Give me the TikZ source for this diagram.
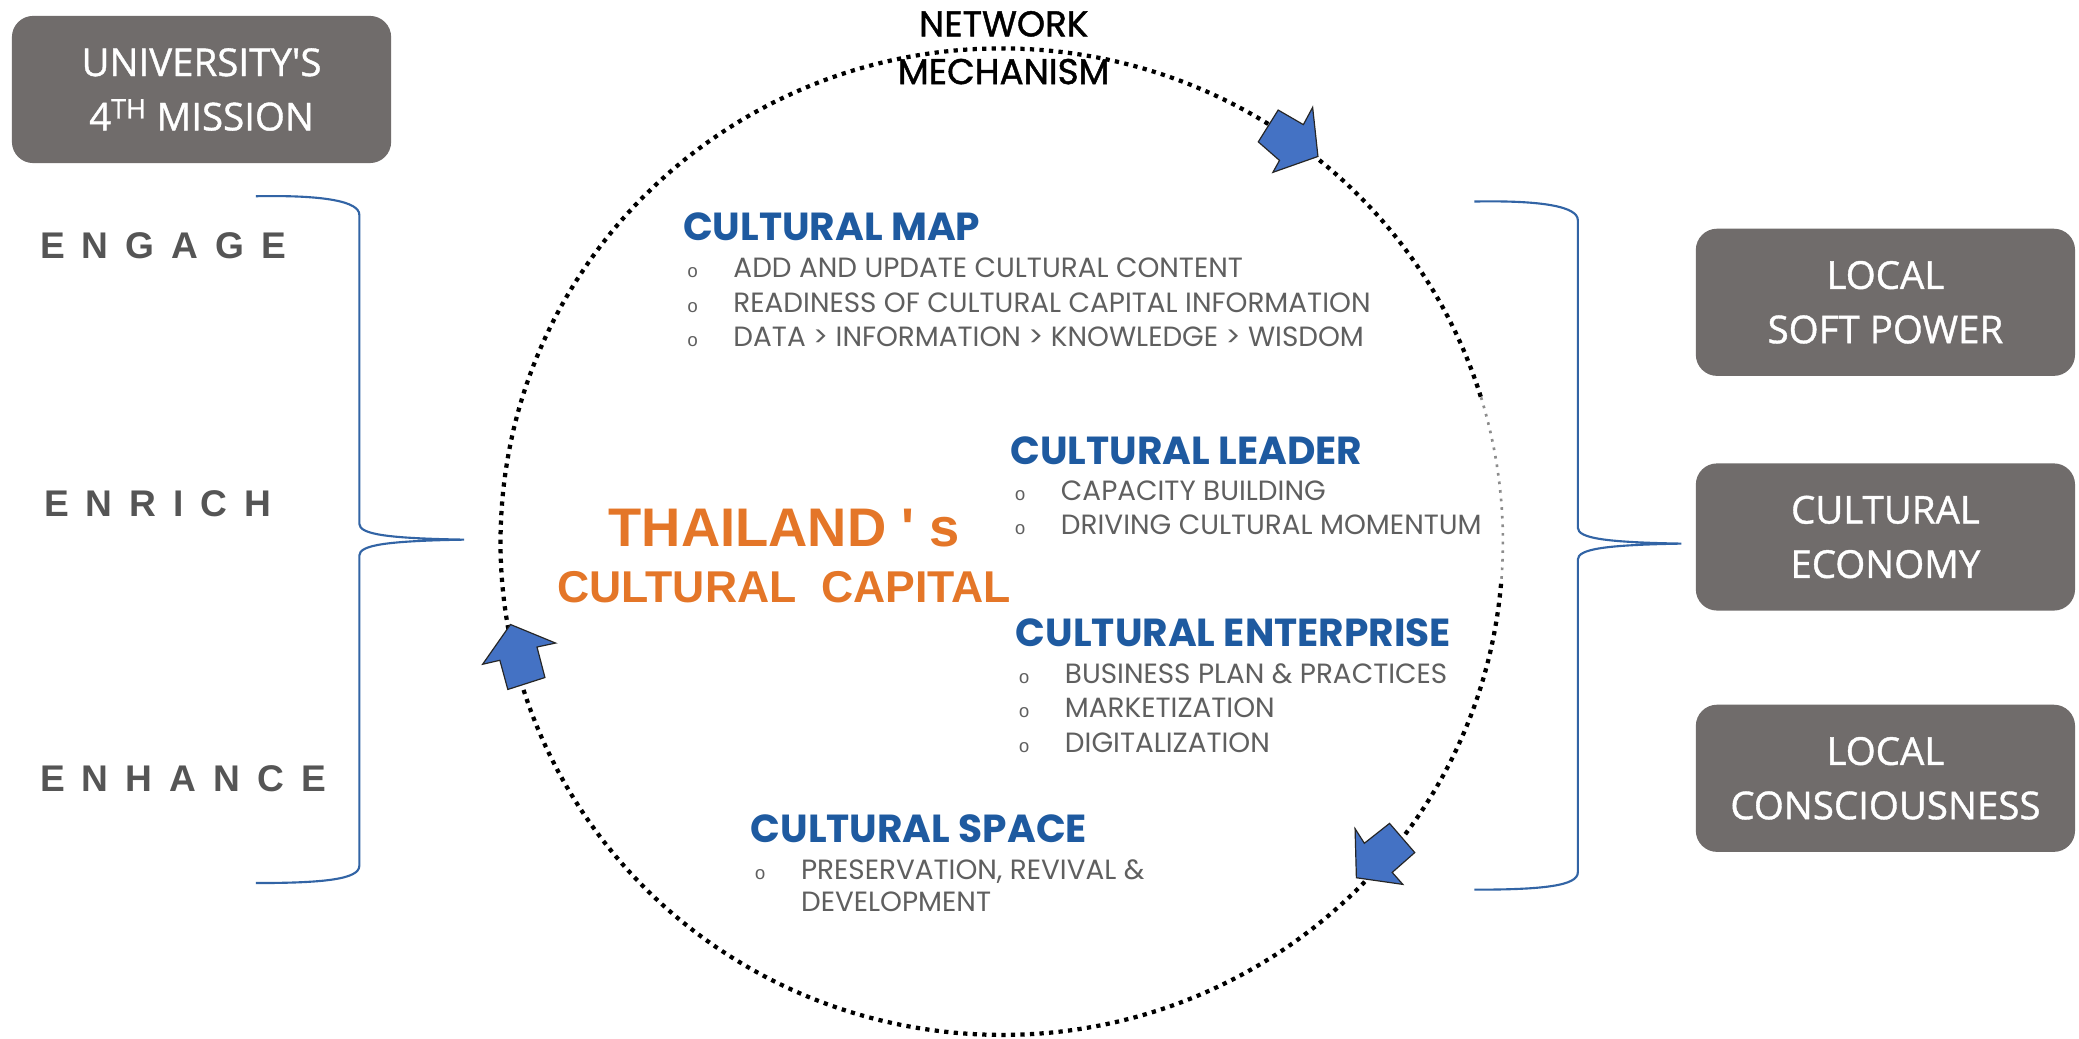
\documentclass[tikz,border=0pt]{standalone}
\usepackage{fontspec}
\setmainfont{Poppins}
\newfontfamily\arialf{Liberation Sans}
\newfontfamily\boxf{Open Sans}[FakeBold=1]
\newfontfamily\netf{Poppins}[FakeBold=1.3]
\newfontfamily\monof{Liberation Mono}
\definecolor{boxgray}{RGB}{112,108,107}
\definecolor{hblue}{RGB}{30,90,160}
\definecolor{txtgray}{RGB}{95,95,95}
\definecolor{wordgray}{RGB}{85,85,85}
\definecolor{orangec}{RGB}{228,118,40}
\definecolor{arrowblue}{RGB}{68,114,196}
\definecolor{bracec}{RGB}{50,100,165}
\definecolor{dotgray}{RGB}{140,140,140}
\tikzset{
  graybox/.style={fill=boxgray, rounded corners=16pt, draw=none, text=white,
    font=\boxf\fontsize{29}{41}\selectfont, align=center,
    minimum width=286pt, minimum height=111pt, inner sep=0pt},
  heading/.style={anchor=west, inner sep=0pt, text=hblue, font=\bfseries\fontsize{29.5}{32}\selectfont},
  itemtxt/.style={anchor=west, inner sep=0pt, text=txtgray, font=\fontsize{21}{24}\selectfont, align=left},
  word/.style={anchor=west, inner sep=0pt, text=wordgray,
    font=\arialf\bfseries\fontsize{28}{32}\selectfont\addfontfeatures{LetterSpace=46}},
  orangetxt/.style={inner sep=0pt, text=orangec, font=\arialf\bfseries},
  nettxt/.style={inner sep=0pt, text=black, font=\netf\fontsize{27}{30}\selectfont},
  dotline/.style={line width=3.2pt, dash pattern=on 3.2pt off 4pt},
  graydots/.style={line width=2pt, dotgray, dash pattern=on 2pt off 4.5pt},
  bracket/.style={bracec, line width=1.6pt},
  blockarrow/.style={fill=arrowblue, draw=black!85, line width=0.9pt, line join=miter}
}
\newcommand{\bul}{\makebox[35pt][l]{\monof\fontsize{14}{14}\selectfont o}}
\begin{document}
\begin{tikzpicture}[x=1pt,y=-1pt]
\useasboundingbox (0,0) rectangle (1568,783);
\fill[white] (0,0) rectangle (1568,783);

% dotted ellipse
\coordinate (g1) at (1132.1,440.3);
\coordinate (g2) at (1117.0,299.7);
\draw[dotline] (g1) arc[start angle=4.9, end angle=343, x radius=378, y radius=372];
\draw[graydots] (g2) arc[start angle=343, end angle=364.9, x radius=378, y radius=372];

% block arrows
\draw[blockarrow] (994,118) -- (990,81) -- (983,94) -- (964,83) -- (949,107) -- (965,121) -- (960,130) -- cycle;
\draw[blockarrow] (385,471) -- (419,485) -- (405,488) -- (411,511) -- (383,520) -- (377,498) -- (364,501) -- cycle;
\draw[blockarrow] (1023,662) -- (1022,625) -- (1029,636) -- (1048,621) -- (1067,643) -- (1050,658) -- (1058,667) -- cycle;

% boxes
\node[graybox] (mission) at (152,67.5) {\fontsize{29}{44}\selectfont UNIVERSITY'S\\4\textsuperscript{TH} MISSION};
\node[graybox] (softpower) at (1422,228) {LOCAL\\SOFT POWER};
\node[graybox] (economy) at (1422,405) {CULTURAL\\ECONOMY};
\node[graybox] (conscious) at (1422,587) {LOCAL\\CONSCIOUSNESS};

% network label
\node[nettxt] (network) at (757,18) {NETWORK};
\node[nettxt] (mechanism) at (757,54) {MECHANISM};

% left words
\node[word] (engage) at (30,185) {ENGAGE};
\node[word] (enrich) at (33,380) {ENRICH};
\node[word] (enhance) at (30,587) {ENHANCE};

% braces
\coordinate (lbtip) at (350,407);
\coordinate (rbtip) at (1268,410);
\draw[bracket] (193,148) .. controls (245,147) and (271,152) .. (271,162) -- (271,395)
  .. controls (271,403) and (292,406) .. (lbtip)
  .. controls (292,408) and (271,411) .. (271,419) -- (271,653)
  .. controls (271,663) and (245,666) .. (193,666);
\draw[bracket] (1112,152) .. controls (1164,151) and (1190,156) .. (1190,166) -- (1190,398)
  .. controls (1190,406) and (1211,409) .. (rbtip)
  .. controls (1211,411) and (1190,414) .. (1190,422) -- (1190,658)
  .. controls (1190,668) and (1164,671) .. (1112,671);

% centre title
\node[orangetxt, font=\arialf\bfseries\fontsize{41}{46}\selectfont] (thai) at (591.5,398) {THAILAND ' s};
\node[orangetxt, font=\arialf\bfseries\fontsize{33.6}{40}\selectfont] (capital) at (591.5,443) {CULTURAL\ \ CAPITAL};

% cultural map
\node[heading] (maph) at (515,171) {CULTURAL MAP};
\node[itemtxt] (map1) at (518,202) {\bul ADD AND UPDATE CULTURAL CONTENT};
\node[itemtxt] (map2) at (518,228) {\bul READINESS OF CULTURAL CAPITAL INFORMATION};
\node[itemtxt] (map3) at (518,254) {\bul DATA > INFORMATION > KNOWLEDGE > WISDOM};

% cultural leader
\node[heading] (leadh) at (762,340) {CULTURAL LEADER};
\node[itemtxt] (lead1) at (765,370) {\bul CAPACITY BUILDING};
\node[itemtxt] (lead2) at (765,396) {\bul DRIVING CULTURAL MOMENTUM};

% cultural enterprise
\node[heading] (enth) at (766,477) {CULTURAL ENTERPRISE};
\node[itemtxt] (ent1) at (768,508) {\bul BUSINESS PLAN \& PRACTICES};
\node[itemtxt] (ent2) at (768,534) {\bul MARKETIZATION};
\node[itemtxt] (ent3) at (768,560) {\bul DIGITALIZATION};

% cultural space
\node[heading] (spaceh) at (566,625) {CULTURAL SPACE};
\node[itemtxt] (space1) at (569,668) {\bul PRESERVATION, REVIVAL \&\\\hspace*{35pt}DEVELOPMENT};
\end{tikzpicture}
\end{document}
